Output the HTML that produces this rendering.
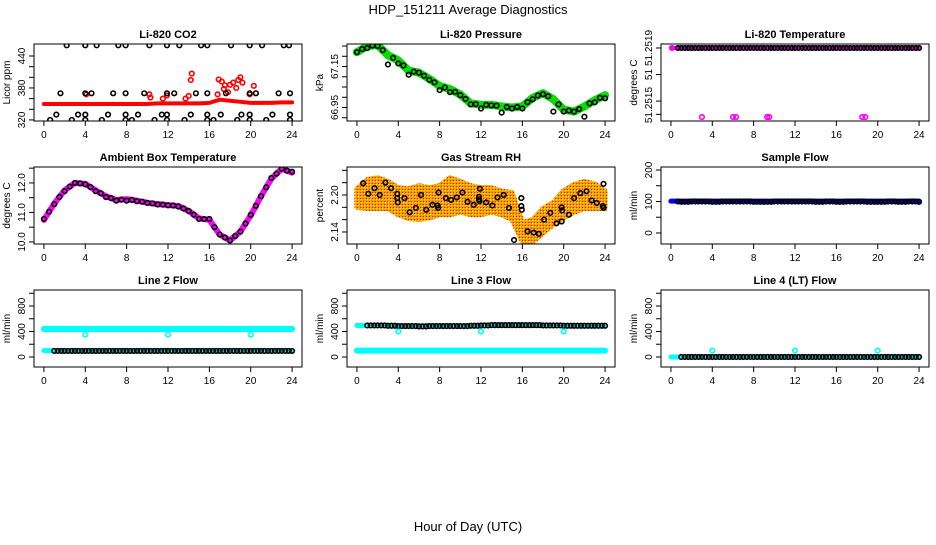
<!DOCTYPE html>
<html><head><meta charset="utf-8"><style>
body{margin:0;background:#fff;}
svg text{font-family:"Liberation Sans",sans-serif;}
</style></head><body>
<svg id="c" width="936" height="540" xmlns="http://www.w3.org/2000/svg">
<defs>
<pattern id="rhpat" width="3" height="3" patternUnits="userSpaceOnUse">
<rect width="3" height="3" fill="#f3a000"/><rect x="1" y="1" width="1" height="1" fill="#ff0"/><rect x="0" y="0" width="1" height="1" fill="#f00"/>
</pattern>
</defs>
<text x="468" y="14" text-anchor="middle" font-size="13">HDP_151211  Average Diagnostics</text>
<text x="468" y="531" text-anchor="middle" font-size="13">Hour of Day (UTC)</text>
</svg>
<script>
// ---- data ----
const hours = [0,1,2,3,4,5,6,7,8,9,10,11,12,13,14,15,16,17,18,19,20,21,22,23,24];
const xTicks = [0,4,8,12,16,20,24];
// CO2
const co2Red = [350,350,350,350,350,350,350,350,350,350,350,351,351,351,351,351,352,358,356,354,352,352,352,353,353];
const co2BlackT = [2.2,4.0,5.1,7.2,7.9,10.2,11.9,13.1,15.2,15.8,18.1,19.9,21.1,23.2,23.7, 1.6,4.0,4.6,6.7,7.9,9.7,11.9,12.6,14.7,15.8,17.6,19.9,20.5,22.7,23.8, 1.2,3.3,4.0,6.2,7.9,9.1,11.4,11.9,14.2,15.8,17.1,19.1,19.9,22.1,23.8, 0.6,2.7,4.0,5.6,7.9,8.5,10.7,11.9,13.6,15.8,16.4,18.7,19.9,21.5,23.8];
const co2BlackV = [460,460,460,460,460,460,460,460,460,460,460,460,460,460,460, 370,370,370,370,370,370,370,370,370,370,370,370,370,370,370, 330,330,330,330,330,330,330,330,330,330,330,330,330,330,330, 320,320,320,320,320,320,320,320,320,320,320,320,320,320,320];
const co2OutT = [4.1,10.2,10.3,11.5,11.9,13.7,14.0,14.2,14.3,16.8,16.9,17.2,17.4,17.5,17.8,18.0,18.3,18.6,18.8,19.0,19.2,19.9,20.3];
const co2OutV = [368,368,362,360,366,360,365,395,407,368,396,392,378,385,372,386,390,380,395,400,390,368,384];
// Pressure
const presGreen = [67.22,67.25,67.255,67.205,67.18,67.13,67.12,67.09,67.055,67.04,67.013,66.97,66.963,66.963,66.955,66.95,66.955,66.997,67.02,66.99,66.94,66.93,66.955,66.985,67.01];
const presBlack = [67.22,67.24,67.25,67.16,67.165,67.11,67.12,67.085,67.035,67.025,67.01,66.965,66.945,66.96,66.925,66.945,66.945,66.99,67.015,66.93,66.93,66.93,66.905,66.975,66.995];
// Temperature
const tempBlack = [51.2519,51.2519,51.2519,51.2519,51.2519,51.2519,51.2519,51.2519,51.2519,51.2519,51.2519,51.2519,51.2519,51.2519,51.2519,51.2519,51.2519,51.2519,51.2519,51.2519,51.2519,51.2519,51.2519,51.2519,51.2519];
const tempOutT = [0.1,3.0,6.0,6.3,9.3,9.5,18.5,18.8];
const tempOutV = [51.2519,51.25138,51.25138,51.25138,51.25138,51.25138,51.25138,51.25138];
// Ambient
const ambMag = [10.75,11.3,11.75,12.0,11.97,11.75,11.55,11.42,11.45,11.4,11.33,11.28,11.25,11.22,11.05,10.8,10.75,10.25,10.05,10.35,10.9,11.55,12.15,12.48,12.35];
const ambBlack = [10.78,11.28,11.72,12.0,11.95,11.72,11.52,11.4,11.4,11.38,11.32,11.27,11.24,11.2,11.05,10.78,10.78,10.25,10.05,10.35,10.92,11.55,12.17,12.48,12.38];
// RH
const rhUpper = [2.21,2.225,2.228,2.222,2.212,2.21,2.215,2.212,2.215,2.228,2.222,2.215,2.212,2.212,2.206,2.204,2.155,2.16,2.178,2.188,2.207,2.217,2.222,2.218,2.206];
const rhLower = [2.18,2.178,2.178,2.178,2.168,2.162,2.16,2.163,2.168,2.168,2.172,2.168,2.168,2.172,2.168,2.16,2.125,2.124,2.138,2.152,2.163,2.172,2.178,2.178,2.178];
const rhBlackT = [0.6,1.1,1.7,2.2,2.75,3.3,3.9,3.9,3.95,4.6,5.1,5.7,6.2,6.7,7.3,7.8,7.85,7.9,8.6,9.1,9.65,10.2,10.7,11.3,11.8,11.8,11.85,11.9,12.5,13.1,13.6,14.2,14.7,15.2,15.9,15.9,15.95,16.5,17.1,17.6,18.1,18.7,19.3,19.8,19.8,19.85,20.5,21.0,21.6,22.2,22.7,23.2,23.8,23.85,23.85];
const rhBlackV = [2.219,2.202,2.211,2.200,2.220,2.211,2.202,2.195,2.188,2.195,2.172,2.179,2.200,2.176,2.184,2.183,2.179,2.204,2.195,2.192,2.196,2.204,2.189,2.184,2.197,2.193,2.190,2.210,2.188,2.183,2.196,2.200,2.179,2.127,2.195,2.182,2.176,2.141,2.139,2.137,2.160,2.171,2.154,2.157,2.180,2.175,2.168,2.195,2.203,2.206,2.191,2.187,2.182,2.179,2.218];
// Sample flow
const sampleBlue = [101,101,101,101,101,101,101,101,101,101,101,101,101,101,101,101,101,101,101,101,101,101,101,101,101];
const sampleBlack = [100,99,100,100,99,100,100,100,99,99,100,100,100,100,99,100,99,100,100,99,99,100,99,100,99];
// Line flows
const l2CyanHi = [440,440,440,440,440,440,440,440,440,440,440,440,440,440,440,440,440,440,440,440,440,440,440,440,440];
const l2CyanLo = [100,100,100,100,100,100,100,100,100,100,100,100,100,100,100,100,100,100,100,100,100,100,100,100,100];
const l2Black = [95,95,95,95,95,95,95,95,95,95,95,95,95,95,95,95,95,95,95,95,95,95,95,95,95];
const l2OutT = [4,12,20]; const l2OutV = [350,350,350];
const l3CyanHi = [495,495,495,495,490,490,490,490,490,490,490,490,495,495,495,495,495,495,495,495,495,495,495,495,495];
const l3CyanLo = [100,100,100,100,100,100,100,100,100,100,100,100,100,100,100,100,100,100,100,100,100,100,100,100,100];
const l3Black = [495,495,495,490,485,485,480,485,485,485,485,490,495,500,500,500,500,500,495,495,490,490,490,490,490];
const l3OutT = [4,12,20]; const l3OutV = [400,400,400];
const l4Cyan = [0,0,0,0,0,0,0,0,0,0,0,0,0,0,0,0,0,0,0,0,0,0,0,0,0];
const l4Black = [0,0,0,0,0,0,0,0,0,0,0,0,0,0,0,0,0,0,0,0,0,0,0,0,0];
const l4OutT = [4,12,20]; const l4OutV = [100,100,100];

// ---- drawing ----
const svg = document.getElementById('c');
const NS = 'http://www.w3.org/2000/svg';
function mk(tag, attrs, parent){const e=document.createElementNS(NS,tag);for(const k in attrs)e.setAttribute(k,attrs[k]);(parent||svg).appendChild(e);return e;}
const colLeft=[34,347,661], rowTop=[44,167,290], W=268, H=77;
function panel(col,row,title,ylab,ymin,ymax,yticks,ylabels,name){
  const bx=colLeft[col], by=rowTop[row];
  const g=mk('g',{});
  
  
  const xs=t=>bx+W*(t+0.96)/25.92;
  const ys=v=>by+H*(ymax-v)/(ymax-ymin);
  const cp=mk('clipPath',{id:'cp'+name},g); mk('rect',{x:bx,y:by,width:W,height:H},cp);
  const plot=mk('g',{'clip-path':'url(#cp'+name+')'},g);
  
  
  const box=mk('rect',{x:bx,y:by,width:W,height:H,fill:'none',stroke:'#000','stroke-width':1},g);
  
  
  const t=mk('text',{x:bx+W/2,y:by-6,'text-anchor':'middle','font-size':11,'font-weight':'bold'},g); t.textContent=title;
  
  
  mk('line',{x1:xs(0),x2:xs(24),y1:by+H,y2:by+H,stroke:'#000'},g);
  xTicks.forEach(v=>{mk('line',{x1:xs(v),x2:xs(v),y1:by+H,y2:by+H+5,stroke:'#000'},g);
    const l=mk('text',{x:xs(v),y:by+H+17,'text-anchor':'middle','font-size':10},g);l.textContent=v;
    
    });
  yticks.forEach(v=>{mk('line',{x1:bx,x2:bx-5,y1:ys(v),y2:ys(v),stroke:'#000'},g);});
  ylabels.forEach(([v,s])=>{const l=mk('text',{x:bx-9,y:ys(v),'text-anchor':'middle','font-size':10,transform:`rotate(-90 ${bx-9} ${ys(v)})`},g);l.textContent=s;
    
    });
  const yl=mk('text',{x:bx-24,y:by+H/2,'text-anchor':'middle','font-size':10,transform:`rotate(-90 ${bx-24} ${by+H/2})`},g);yl.textContent=ylab;
  
  
  return {xs,ys,plot};
}
function band(p,vals,color,w,name){
  const pts=hours.map((h,i)=>p.xs(h)+','+p.ys(vals[i])).join(' ');
  const e=mk('polyline',{points:pts,fill:'none',stroke:color,'stroke-width':w,'stroke-linejoin':'round','stroke-linecap':'round'},p.plot);
  
  
}
function pts(p,ts,vs,color,name,r){
  ts.forEach((t,i)=>{const c=mk('circle',{cx:p.xs(t),cy:p.ys(vs[i]),r:r||2.3,fill:'none',stroke:color,'stroke-width':1.6},p.plot);
    
    });
}
function denseBlack(p,vals,name,step,start){
  for(let k=0;k<hours.length;k++){
    for(let s=0;s<1;s+=step){const t=hours[k]+s; if(t<start||t>24)continue;
      const c=mk('circle',{cx:p.xs(t),cy:p.ys(vals[k]),r:2.3,fill:'none',stroke:'#000','stroke-width':1.6},p.plot);
      
      }
  }
}
function r(a,b,s){const o=[];for(let v=a;v<=b+1e-9;v+=s)o.push(+v.toFixed(6));return o;}

// CO2
let p=panel(0,0,'Li-820 CO2','Licor ppm',318,462.5,r(320,440,20),[[320,'320'],[380,'380'],[440,'440']],'co2');
band(p,co2Red,'#f00',4,'co2-red-series');
pts(p,co2OutT,co2OutV,'#f00','co2-red-point');
pts(p,co2BlackT,co2BlackV,'#000','co2-black-point');
// Pressure
p=panel(1,0,'Li-820 Pressure','kPa',66.884,67.26,r(66.90,67.25,0.05),[[66.95,'66.95'],[67.15,'67.15']],'pressure');
band(p,presGreen,'#0d0',8,'pressure-green-series');
pts(p,hours,presBlack,'#000','pressure-black-point');
pts(p,hours.slice(0,24).map(h=>h+0.5),presGreen.slice(0,24).map((v,i)=>(v+presGreen[i+1])/2),'#000','pressure-black-point');
// Temperature
p=panel(2,0,'Li-820 Temperature','degrees C',51.25135,51.25193,[51.2514,51.2515,51.2517,51.2519],[[51.2519,'51.2519'],[51.2517,'51'],[51.25147,'51.2515']],'temperature');
band(p,tempBlack,'#f0f',4,'temperature-magenta-series');
denseBlack(p,tempBlack,'temperature-black-point',0.34,0.5);
pts(p,tempOutT,tempOutV,'#f0f','temperature-magenta-point');
// Ambient
p=panel(0,1,'Ambient Box Temperature','degrees C',9.93,12.54,r(10,12.5,0.5),[[10,'10.0'],[11,'11.0'],[12,'12.0']],'ambient');
band(p,ambMag,'#f0f',6,'ambient-magenta-series');
pts(p,hours,ambBlack,'#000','ambient-black-point');
pts(p,hours.slice(0,24).map(h=>h+0.5),ambMag.slice(0,24).map((v,i)=>(v+ambMag[i+1])/2),'#000','ambient-black-point');
// RH
p=panel(1,1,'Gas Stream RH','percent',2.1205,2.2454,r(2.14,2.24,0.02),[[2.14,'2.14'],[2.20,'2.20']],'rh');
{const up=hours.map((h,i)=>p.xs(h)+','+p.ys(rhUpper[i])); const lo=hours.map((h,i)=>p.xs(h)+','+p.ys(rhLower[i])).reverse();
 const e=mk('polygon',{points:up.concat(lo).join(' '),fill:'url(#rhpat)',stroke:'url(#rhpat)','stroke-width':5,'stroke-linejoin':'round'},p.plot);
 
 }
pts(p,rhBlackT,rhBlackV,'#000','rh-black-point');
// Sample flow
p=panel(2,1,'Sample Flow','ml/min',-35,209.5,r(0,200,50),[[0,'0'],[100,'100'],[200,'200']],'sample-flow');
band(p,sampleBlue,'#00f',5,'sample-blue-series');
denseBlack(p,sampleBlack,'sample-black-point',0.34,0.5);
// Line 2
p=panel(0,2,'Line 2 Flow','ml/min',-157,1051,r(0,1000,200),[[0,'0'],[400,'400'],[800,'800']],'line2');
band(p,l2CyanHi,'#0ff',6,'line2-cyan-high');
band(p,l2CyanLo,'#0ff',5,'line2-cyan-low');
denseBlack(p,l2Black,'line2-black-point',0.34,0.7);
pts(p,l2OutT,l2OutV,'#0ff','line2-cyan-point');
// Line 3
p=panel(1,2,'Line 3 Flow','ml/min',-157,1051,r(0,1000,200),[[0,'0'],[400,'400'],[800,'800']],'line3');
band(p,l3CyanHi,'#0ff',5,'line3-cyan-high');
band(p,l3CyanLo,'#0ff',6,'line3-cyan-low');
denseBlack(p,l3Black,'line3-black-point',0.34,0.7);
pts(p,l3OutT,l3OutV,'#0ff','line3-cyan-point');
// Line 4
p=panel(2,2,'Line 4 (LT) Flow','ml/min',-157,1051,r(0,1000,200),[[0,'0'],[400,'400'],[800,'800']],'line4');
band(p,l4Cyan,'#0ff',5,'line4-cyan-series');
denseBlack(p,l4Black,'line4-black-point',0.34,0.7);
pts(p,l4OutT,l4OutV,'#0ff','line4-cyan-point');
</script>
</body></html>
